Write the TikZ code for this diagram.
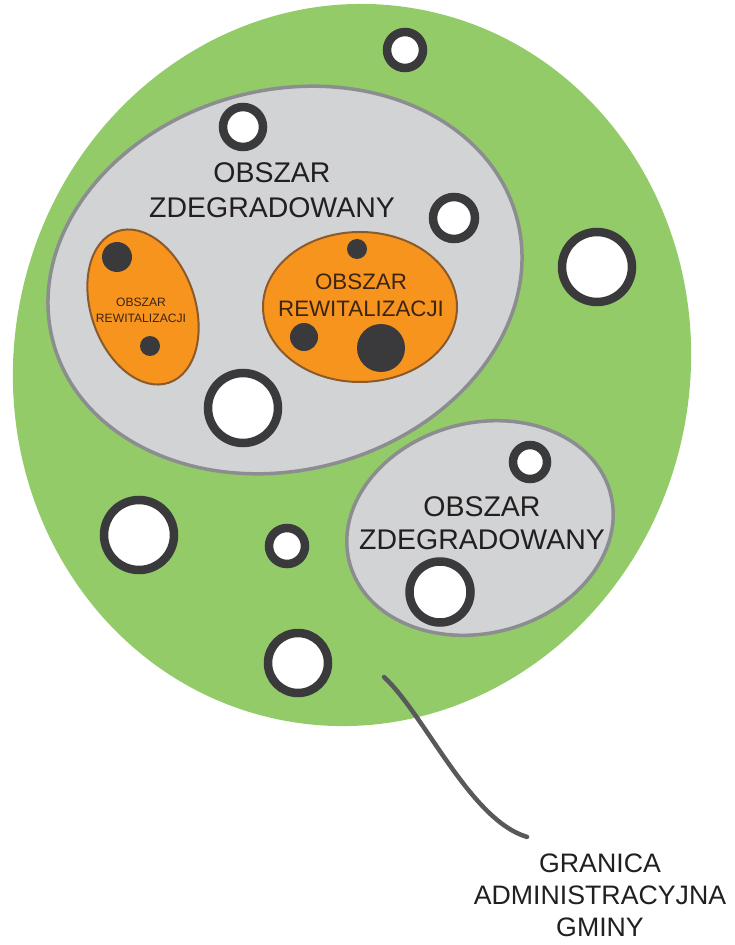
\documentclass[tikz,border=0pt]{standalone}
\usepackage{fontspec}
\setmainfont{Liberation Sans}
\usepackage{tikz}
\usetikzlibrary{calc}
\definecolor{gminagreen}{HTML}{92CB68}
\definecolor{zdegfill}{HTML}{D1D3D4}
\definecolor{zdegline}{HTML}{8C8D90}
\definecolor{rewfill}{HTML}{F7941E}
\definecolor{rewline}{HTML}{8A5A2C}
\definecolor{ringcol}{HTML}{3A3A3C}
\definecolor{txtcol}{HTML}{231F20}
\definecolor{rewtxt}{HTML}{3C2415}
\definecolor{leadcol}{HTML}{58595B}
\tikzset{zd/.style={fill=zdegfill,draw=zdegline,line width=0.07cm},rw/.style={fill=rewfill,draw=rewline,line
width=0.04cm},ring/.style={fill=white,draw=ringcol,line width=0.17cm},hole/.style={fill=ringcol},
lbl/.style={align=center,inner sep=0pt,text=txtcol}}

\begin{document}
\begin{tikzpicture}[x=0.02cm,y=-0.02cm]
		\useasboundingbox (0,0) rectangle (734,945);
		\fill[gminagreen,rotate around={-12:(352,365)}] (352,365) ellipse (338 and 362);
		\draw[zd,rotate around={15:(285,280)}] (285,280) ellipse (240 and 190);
		\draw[zd,rotate around={15:(480,528)}] (480,528) ellipse (135 and 105);
		\draw[rw,rotate around={19:(143,307)}] (143,307) ellipse (52 and 80);
		\draw[rw] (360,307) ellipse (97 and 75);
		\foreach \x/\y/\r in {117/257/15,150/346/10,357/249/10,304/337/14,381/348/24}
			\fill[hole] (\x,\y) circle (\r);
		\foreach \x/\y/\r in {405/50/18,243/127/20,454/218/21,597/267/35,243/408/35,
				530/462/17,139/535/35,287/546/18,440/592/30.5,298/663/30}
			\draw[ring] (\x,\y) circle (\r);
		\node[lbl,font=\fontsize{16.2}{19.8}\selectfont] (zdeg1) at (272,190) {OBSZAR\\ZDEGRADOWANY};
		\node[lbl,font=\fontsize{16.2}{18.7}\selectfont] (zdeg2) at (482,523) {OBSZAR\\ZDEGRADOWANY};
		\node[lbl,text=rewtxt,font=\fontsize{12.7}{15.3}\selectfont] (rew1) at (361,295.5) {OBSZAR\\REWITALIZACJI};
		\node[lbl,text=rewtxt,font=\fontsize{6.9}{9.1}\selectfont] (rew2) at (141,310.5) {OBSZAR\\REWITALIZACJI};
		\node[lbl,font=\fontsize{15.2}{18.1}\selectfont] (granica) at (600,895.5) {GRANICA\\ADMINISTRACYJNA\\GMINY};
		\coordinate (brzeg) at (384,677);
		\draw[draw=leadcol,line width=0.09cm,line cap=round] (brzeg) .. controls (425,715) and (470,820) .. ($(granica.north)+(-73,-17)$);
	\end{tikzpicture}
\end{document}
